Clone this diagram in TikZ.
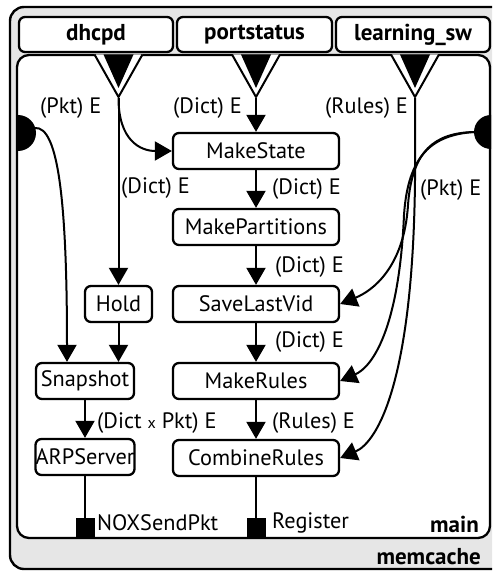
\documentclass[tikz,border=0pt]{standalone}
\usepackage{fontspec}
\setmainfont{PT Sans}
\usetikzlibrary{arrows.meta,calc}
\newcommand\lblfont{\fontsize{22.3}{26}\selectfont}
\newcommand\hdrfont{\fontsize{23}{27}\selectfont\bfseries}
\definecolor{bggray}{HTML}{E6E6E6}
\begin{document}
\begin{tikzpicture}[x=1pt,y=-1pt,
  box/.style={draw, line width=2.3pt, rounded corners=6pt, fill=white, inner sep=0pt, minimum height=36pt, font=\lblfont},
  hdr/.style={draw, line width=2.3pt, rounded corners=6pt, fill=white, inner sep=0pt, minimum height=35pt, font=\hdrfont},
  conn/.style={line width=2pt, -{Triangle[length=17pt,width=19pt]}},
  plainline/.style={line width=2pt},
  lab/.style={anchor=west, inner sep=0pt, font=\lblfont},
  blab/.style={anchor=east, inner sep=0pt, font=\hdrfont},
  port/.style={fill=black, inner sep=0pt, minimum width=19pt, minimum height=20pt}
]
\clip (0,0) rectangle (492,572);
% outer memcache box
\draw[line width=2.4pt, fill=bggray, rounded corners=14pt] (10,7) rectangle (530,569);
% main box
\draw[line width=2.3pt, fill=white, rounded corners=12pt] (17,55) rectangle (490,538);
% headers
\node[hdr, minimum width=154pt] (dhcpd) at (96,34.5) {dhcpd};
\node[hdr, minimum width=155pt] (portstatus) at (254.5,34.5) {portstatus};
\node[hdr, minimum width=154pt] (learning) at (413,34.5) {learning\_sw};
% funnels
\foreach \cx in {118.5,256,415}{
  \draw[line width=2pt, fill=white, line join=round] (\cx-24,54.5) -- (\cx,97) -- (\cx+24,54.5);
  \fill (\cx-15,54.5) -- (\cx,88) -- (\cx+15,54.5) -- cycle;
}
\coordinate (dap) at (118.5,98);
\coordinate (pap) at (256,98);
\coordinate (lap) at (415,98);
% packet inputs
\fill (18,115) arc[start angle=90, end angle=-90, radius=18pt] -- cycle;
\fill (491,115) arc[start angle=90, end angle=270, radius=17pt] -- cycle;
\coordinate (pktL) at (35,128);
\coordinate (pktR) at (474,132);
% nodes
\node[box, minimum width=166pt] (MS) at (256,151) {MakeState};
\node[box, minimum width=166pt] (MP) at (256,227) {MakePartitions};
\node[box, minimum width=166pt] (SLV) at (256,304) {SaveLastVid};
\node[box, minimum width=166pt] (MR) at (256,381) {MakeRules};
\node[box, minimum width=166pt] (CR) at (256,458) {CombineRules};
\node[box, minimum width=67pt] (Hold) at (118.5,304) {Hold};
\node[box, minimum width=98pt] (Snap) at (85,381) {Snapshot};
\node[box, minimum width=99pt] (ARP) at (85,457) {ARPServer};
\node[port] (nox) at (85,528) {};
\node[port] (reg) at (256,528) {};
% connectors
\draw[conn] (pap) -- (MS.north);
\draw[conn] (MS.south) -- (MP.north);
\draw[conn] (MP.south) -- (SLV.north);
\draw[conn] (SLV.south) -- (MR.north);
\draw[conn] (MR.south) -- (CR.north);
\draw[plainline] (CR.south) -- (reg.north);
\draw[conn] (dap) -- (Hold.north);
\draw[conn] (dap) .. controls (118.5,140) and (140,151) .. (MS.west);
\draw[conn] (Hold.south) -- (Hold.south |- Snap.north);
\draw[conn] (pktL) .. controls (58,126) and (67,200) .. ([xshift=-18pt]Snap.north);
\draw[conn] (Snap.south) -- (ARP.north);
\draw[plainline] (ARP.south) -- (nox.north);
\coordinate (lbend) at (415,180);
\draw[conn] (lap) -- (lbend) .. controls (413,380) and (378,442) .. (CR.east);
\coordinate (sb) at (408,205);
\draw[conn] (pktR) .. controls (435,133) and (412,150) .. (sb) .. controls (404,268) and (372,291) .. (SLV.east);
\coordinate (mb) at (404,215);
\draw[conn] (pktR) .. controls (432,135) and (408,155) .. (mb) .. controls (399,330) and (372,367) .. (MR.east);
% labels
\node[lab] (l1) at (40,108) {(Pkt) E};
\node[lab] (l2) at (173,108) {(Dict) E};
\node[lab] (l3) at (325,108) {(Rules) E};
\node[lab] (l4) at (121,188) {(Dict) E};
\node[lab] (l5) at (272,189) {(Dict) E};
\node[lab] (l6) at (420,190) {(Pkt) E};
\node[lab] (l7) at (275,267) {(Dict) E};
\node[lab] (l8) at (275,342) {(Dict) E};
\node[lab] (l9) at (97,423) {(Dict {\fontsize{16}{18}\selectfont x} Pkt) E};
\node[lab] (l10) at (272,423) {(Rules) E};
\node[lab] (l11) at (97,523) {NOXSendPkt};
\node[lab] (l12) at (272,523) {Register};
\node[blab] (mainlab) at (479,524) {main};
\node[blab] (memlab) at (481,557) {memcache};
\end{tikzpicture}
\end{document}
